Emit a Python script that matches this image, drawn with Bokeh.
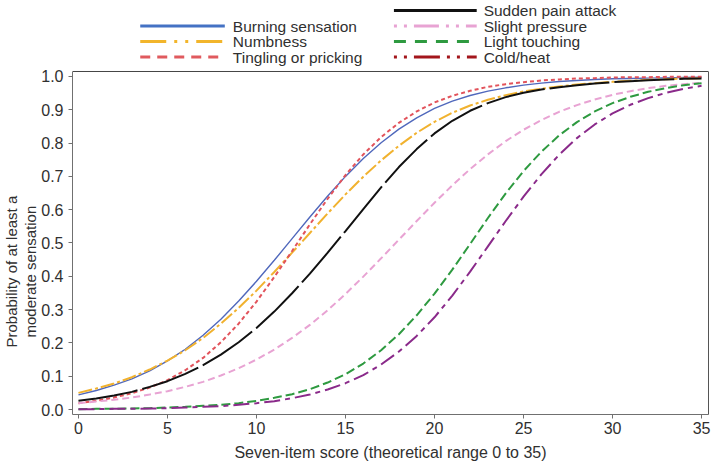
from bokeh.plotting import figure
from bokeh.models import (Range1d, FixedTicker, PrintfTickFormatter, Label, Arrow, Title,
                          LinearAxis, Span)
from bokeh.embed import file_html
from bokeh.resources import INLINE

# ---- data ----
score = list(range(36))

burning = [0.044, 0.057, 0.073, 0.092, 0.116, 0.146, 0.181, 0.223, 0.271, 0.326,
           0.385, 0.448, 0.513, 0.578, 0.641, 0.700, 0.754, 0.801, 0.842, 0.876,
           0.904, 0.926, 0.943, 0.956, 0.966, 0.974, 0.980, 0.985, 0.988, 0.991,
           0.993, 0.994, 0.995, 0.996, 0.997, 0.998]
numbness = [0.050, 0.063, 0.078, 0.097, 0.120, 0.147, 0.178, 0.215, 0.258, 0.305,
            0.357, 0.413, 0.471, 0.530, 0.589, 0.646, 0.699, 0.748, 0.792, 0.831,
            0.864, 0.891, 0.913, 0.930, 0.944, 0.955, 0.963, 0.970, 0.976, 0.980,
            0.984, 0.987, 0.990, 0.992, 0.994, 0.995]
tingling = [0.019, 0.026, 0.036, 0.049, 0.066, 0.088, 0.118, 0.155, 0.202, 0.258,
            0.324, 0.398, 0.476, 0.556, 0.633, 0.704, 0.766, 0.818, 0.861, 0.895,
            0.922, 0.942, 0.957, 0.969, 0.977, 0.983, 0.988, 0.991, 0.994, 0.995,
            0.997, 0.998, 0.998, 0.999, 0.999, 0.999]
sudden_pain = [0.026, 0.033, 0.042, 0.053, 0.068, 0.085, 0.107, 0.133, 0.165, 0.202,
               0.245, 0.294, 0.349, 0.408, 0.471, 0.536, 0.602, 0.667, 0.728, 0.782,
               0.829, 0.867, 0.897, 0.920, 0.938, 0.951, 0.961, 0.968, 0.974, 0.979,
               0.983, 0.986, 0.989, 0.991, 0.993, 0.994]
slight_pressure = [0.019, 0.024, 0.029, 0.036, 0.045, 0.055, 0.068, 0.083, 0.102, 0.124,
                   0.150, 0.180, 0.215, 0.254, 0.298, 0.347, 0.399, 0.454, 0.510, 0.566,
                   0.621, 0.673, 0.722, 0.766, 0.806, 0.840, 0.869, 0.894, 0.914, 0.931,
                   0.945, 0.956, 0.965, 0.972, 0.977, 0.981]
light_touching = [0.001, 0.002, 0.002, 0.003, 0.004, 0.006, 0.008, 0.011, 0.014, 0.019,
                  0.026, 0.035, 0.046, 0.061, 0.081, 0.106, 0.138, 0.178, 0.226, 0.283,
                  0.348, 0.420, 0.497, 0.575, 0.649, 0.716, 0.774, 0.823, 0.863, 0.895,
                  0.920, 0.939, 0.954, 0.965, 0.974, 0.980]
cold_heat = [0.001, 0.001, 0.002, 0.002, 0.003, 0.004, 0.006, 0.008, 0.010, 0.014,
             0.019, 0.025, 0.034, 0.045, 0.060, 0.079, 0.103, 0.135, 0.174, 0.221,
             0.277, 0.342, 0.414, 0.490, 0.566, 0.639, 0.706, 0.765, 0.815, 0.856,
             0.889, 0.915, 0.935, 0.951, 0.963, 0.972]

labels_col1 = ["Burning sensation", "Numbness", "Tingling or pricking"]
labels_col2 = ["Sudden pain attack", "Slight pressure", "Light touching", "Cold/heat"]
x_ticks = [0, 5, 10, 15, 20, 25, 30, 35]
y_ticks = [0.0, 0.1, 0.2, 0.3, 0.4, 0.5, 0.6, 0.7, 0.8, 0.9, 1.0]
x_title = "Seven-item score (theoretical range 0 to 35)"
y_title = ["Probability of at least a", "moderate sensation"]

FONT = "Liberation Sans"
TXT = "#303030"
AXC = "#707070"

Y_LO, Y_HI, Y_TOP = -0.015, 1.015, 1.2282
p = figure(width=712, height=466, output_backend="svg", toolbar_location=None,
           x_range=Range1d(-0.335, 35.39), y_range=Range1d(Y_LO, Y_TOP),
           min_border_left=69, min_border_right=4, min_border_top=0, min_border_bottom=52)
p.xgrid.visible = False
p.ygrid.visible = False
p.outline_line_color = None
p.background_fill_color = "white"
p.border_fill_color = "white"

for ax in (p.xaxis[0], p.yaxis[0]):
    ax.axis_line_color = AXC
    ax.major_tick_line_color = AXC
    ax.minor_tick_line_color = None
    ax.major_tick_out = 4
    ax.major_tick_in = 0
    ax.major_label_text_font = FONT
    ax.major_label_text_font_size = "16px"
    ax.major_label_text_color = TXT
p.xaxis[0].ticker = FixedTicker(ticks=x_ticks)
p.yaxis[0].ticker = FixedTicker(ticks=y_ticks)
p.yaxis[0].formatter = PrintfTickFormatter(format="%.1f")
p.yaxis[0].bounds = (Y_LO, Y_HI)
p.xaxis[0].major_label_standoff = 3
p.yaxis[0].major_label_standoff = 5
p.xaxis[0].axis_label = x_title
p.xaxis[0].axis_label_text_font = FONT
p.xaxis[0].axis_label_text_font_size = "16px"
p.xaxis[0].axis_label_text_font_style = "normal"
p.xaxis[0].axis_label_text_color = TXT
p.xaxis[0].axis_label_standoff = 7

# frame border: right edge and top edge
right_ax = LinearAxis(bounds=(Y_LO, Y_HI), ticker=FixedTicker(ticks=[]),
                      major_label_text_font_size="0px", major_tick_line_color=None,
                      minor_tick_line_color=None, axis_line_color="#555555")
p.add_layout(right_ax, "right")
p.add_layout(Span(location=Y_HI, dimension="width", line_color="#444444", line_width=1))

# y axis title (two lines)
for off, t in [(77, y_title[1]), (67, y_title[0])]:
    p.add_layout(Title(text=t, align="left", offset=off, standoff=0, text_font=FONT,
                       text_font_size="15px", text_font_style="normal", text_color=TXT), "left")

# curves
curve_styles = [
    (burning, "#5068BC", 1.4, "solid"),
    (numbness, "#F1B22F", 2.0, "14 3 3 3"),
    (tingling, "#E2535B", 2.0, "4 3"),
    (sudden_pain, "#111111", 2.0, "60 5"),
    (slight_pressure, "#E8A3D3", 2.0, "7 4"),
    (light_touching, "#2E9A40", 2.0, "9 4"),
    (cold_heat, "#8A2A8A", 2.0, "16 5 5 5"),
]
for ys, col, w, dash in curve_styles:
    p.line(score, ys, line_color=col, line_width=w, line_dash=dash)

# legend drawn above the plotting box
leg_col1 = [("#4472C4", "solid"), ("#F2B52B", "26 8 3 8 3 8"), ("#E05A5E", "10 7")]
leg_col2 = [("#111111", "solid"), ("#E8A3D3", "3 7 3 7 25 7"), ("#2E9A40", "12 9"),
            ("#A3161C", "3 7 3 7 26 7")]
rows_col1 = [1.1516, 1.105, 1.0585]
rows_col2 = [1.198, 1.1516, 1.105, 1.0585]

def legend_column(items, names, rows, x0, x1, xt):
    for (col, dash), name, ry in zip(items, names, rows):
        p.add_layout(Arrow(end=None, x_start=x0, y_start=ry, x_end=x1, y_end=ry,
                           line_color=col, line_width=3, line_dash=dash))
        p.add_layout(Label(x=xt, y=ry, text=name, text_align="left", text_baseline="middle",
                           text_font=FONT, text_font_size="15.5px", text_color=TXT))

legend_column(leg_col1, labels_col1, rows_col1, 3.47, 8.22, 8.67)
legend_column(leg_col2, labels_col2, rows_col2, 17.72, 22.37, 22.76)

open("out.html", "w").write(file_html(p, INLINE))
